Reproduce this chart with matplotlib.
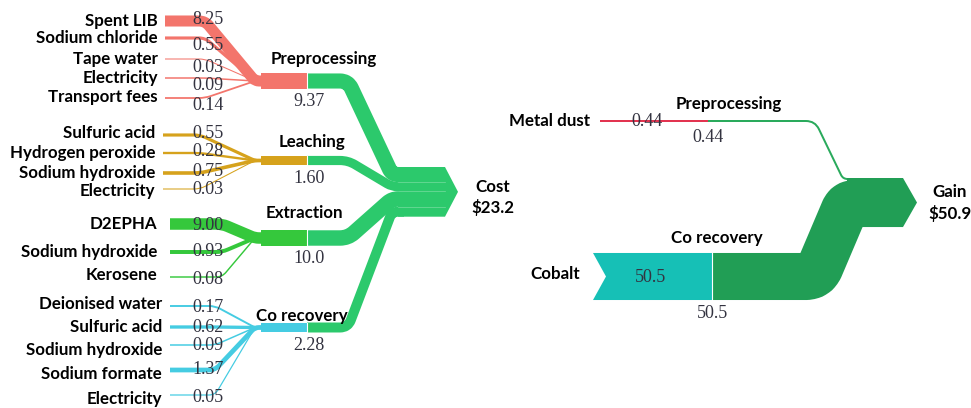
import numpy as np
import matplotlib.pyplot as plt
from matplotlib.path import Path
from matplotlib.patches import PathPatch, Polygon, Rectangle

# ---- data ----
pre_items = ["Spent LIB", "Sodium chloride", "Tape water", "Electricity", "Transport fees"]
pre_values = [8.25, 0.55, 0.03, 0.09, 0.14]
leach_items = ["Sulfuric acid", "Hydrogen peroxide", "Sodium hydroxide", "Electricity"]
leach_values = [0.55, 0.28, 0.75, 0.03]
extr_items = ["D2EPHA", "Sodium hydroxide", "Kerosene"]
extr_values = [9.00, 0.93, 0.08]
co_items = ["Deionised water", "Sulfuric acid", "Sodium hydroxide", "Sodium formate", "Electricity"]
co_values = [0.17, 0.62, 0.09, 1.37, 0.05]

process_names = ["Preprocessing", "Leaching", "Extraction", "Co recovery"]
process_costs = [9.37, 1.60, 10.0, 2.28]
process_labels = ["9.37", "1.60", "10.0", "2.28"]
cost_total = 23.2

gain_sources = ["Metal dust", "Cobalt"]
gain_processes = ["Preprocessing", "Co recovery"]
gain_values = [0.44, 50.5]
gain_total = 50.9

# ---- style ----
PINK = "#F3756C"
GOLD = "#D6A21C"
LGREEN = "#35C83C"
CYAN = "#45CCE2"
OUTGREEN = "#2CC96C"
DKGREEN = "#219E55"
TEAL = "#16C0B6"
RED = "#E23450"
LINEGREEN = "#2AAA5C"
NUMCOL = "#333340"
LABEL_FONT = dict(family="Lato", fontweight="bold", fontsize=12.2, color="black")
NUM_FONT = dict(family="Liberation Serif", fontsize=13, color=NUMCOL)

PX = 0.72  # points per pixel at dpi 100


def in_width(v):
    return 0.4 + 3.7 * np.sqrt(v)


def node_width(v):
    return 5 + 3.3 * np.sqrt(v)


def gain_width(v):
    return 1.6 + 0.9 * v


def rounded(pts, r):
    pts = [np.array(p, float) for p in pts]
    verts = [pts[0]]
    codes = [Path.MOVETO]
    for i in range(1, len(pts) - 1):
        a, p, b = pts[i - 1], pts[i], pts[i + 1]
        da = np.linalg.norm(a - p)
        db = np.linalg.norm(b - p)
        rr = min(r, da / 2, db / 2)
        p1 = p + (a - p) / da * rr
        p2 = p + (b - p) / db * rr
        verts += [p1, p, p2]
        codes += [Path.LINETO, Path.CURVE3, Path.CURVE3]
    verts.append(pts[-1])
    codes.append(Path.LINETO)
    return Path(verts, codes)


def band(ax, pts, w, color, r=6, z=2):
    ax.add_patch(PathPatch(rounded(pts, r), fill=False, edgecolor=color,
                           lw=w * PX, capstyle="butt", joinstyle="round", zorder=z))


fig = plt.figure(figsize=(9.71, 4.08), dpi=100)
ax = fig.add_axes([0, 0, 1, 1])
ax.set_xlim(0, 971)
ax.set_ylim(408, 0)
ax.axis("off")

# ---- left panel layout ----
groups = [
    dict(items=pre_items, values=pre_values, color=PINK, ys=[21, 38, 59, 78, 98],
         label_ys=[21, 38, 59, 78, 97], num_ys=[20, 45, 68, 86, 105],
         x_lab=158, x0=165, bend=205),
    dict(items=leach_items, values=leach_values, color=GOLD, ys=[135, 153, 173, 189],
         label_ys=[133, 153, 173, 191], num_ys=[134, 152, 171, 189],
         x_lab=155, x0=163, bend=200),
    dict(items=extr_items, values=extr_values, color=LGREEN, ys=[224, 252, 277],
         label_ys=[224, 252, 275], num_ys=[226, 252, 279],
         x_lab=157, x0=170, bend=222),
    dict(items=co_items, values=co_values, color=CYAN, ys=[306, 327, 345, 370, 395],
         label_ys=[304, 327, 350, 374, 399], num_ys=[307, 327, 346, 370, 397],
         x_lab=162, x0=170, bend=215),
]
node_centers = [81, 160.5, 238, 327.5]
name_pos = [(324, 59), (312, 142), (304, 213), (302, 316)]
node_x0, node_x1 = 261, 307

# cost arrow stack
widths = [node_width(v) for v in process_costs]
arrow_top = 167
stack_tops = arrow_top + np.concatenate([[0], np.cumsum(widths)[:-1]])
arrow_bot = arrow_top + sum(widths)

for g, yc, w, st, name, (nx, ny), lab in zip(groups, node_centers, widths, stack_tops,
                                             process_names, name_pos, process_labels):
    for item, v, y, ly, ny_ in zip(g["items"], g["values"], g["ys"], g["label_ys"], g["num_ys"]):
        band(ax, [(g["x0"], y), (g["bend"], y), (node_x0 - 6, yc), (node_x0 + 2, yc)],
             in_width(v), g["color"], r=6)
        ax.text(g["x_lab"], ly, item, ha="right", va="center", **LABEL_FONT)
        ax.text(208, ny_, f"{v:.2f}", ha="center", va="center", zorder=6, **NUM_FONT)
    # node
    ax.add_patch(Rectangle((node_x0, yc - w / 2), node_x1 - node_x0, w,
                           facecolor=g["color"], edgecolor="none", zorder=4))
    # output to cost
    ys = st + w / 2
    band(ax, [(node_x1, yc), (348, yc), (392, ys), (404, ys)], w, OUTGREEN, r=8)
    ax.plot([node_x1, node_x1], [yc - w / 2, yc + w / 2], color="white", lw=0.8, zorder=5)
    ax.text(nx, ny, name, ha="center", va="center", zorder=6, **LABEL_FONT)
    ax.text(309, yc + w / 2 + 13, lab, ha="center", va="center", **NUM_FONT)

ax.add_patch(Polygon([(398, arrow_top), (445, arrow_top), (458, (arrow_top + arrow_bot) / 2),
                      (445, arrow_bot), (398, arrow_bot)],
                     closed=True, facecolor=OUTGREEN, edgecolor="none", zorder=3))
for st in stack_tops[1:]:
    ax.plot([398, 445], [st, st], color="white", lw=0.5, alpha=0.35, zorder=3.5)
ax.text(493, 187, "Cost", ha="center", va="center", **LABEL_FONT)
ax.text(493, 208, f"${cost_total}", ha="center", va="center", **LABEL_FONT)

# ---- right panel ----
gw = [gain_width(v) for v in gain_values]
g_top = 178
g_bot = g_top + sum(gw)
g_centers = [g_top + gw[0] / 2, g_top + gw[0] + gw[1] / 2]

# metal dust
md_y = 121
band(ax, [(600, md_y), (708, md_y)], gw[0], RED)
band(ax, [(708, md_y), (815, md_y), (843, g_centers[0]), (852, g_centers[0])],
     gw[0], LINEGREEN, r=9)
ax.text(590, md_y, gain_sources[0], ha="right", va="center", **LABEL_FONT)
ax.text(647, md_y, f"{gain_values[0]:.2f}", ha="center", va="center", zorder=6, **NUM_FONT)
ax.text(708, 137, f"{gain_values[0]:.2f}", ha="center", va="center", **NUM_FONT)
ax.text(729, 104, gain_processes[0], ha="center", va="center", **LABEL_FONT)

# cobalt
cb_y = 276.5
h = gw[1] / 2
ax.add_patch(Polygon([(593, cb_y - h), (712, cb_y - h), (712, cb_y + h), (593, cb_y + h),
                      (606, cb_y)], closed=True, facecolor=TEAL, edgecolor="none", zorder=3))
band(ax, [(712, cb_y), (816, cb_y), (847, g_centers[1]), (862, g_centers[1])],
     gw[1], DKGREEN, r=10)
ax.plot([712, 712], [cb_y - h, cb_y + h], color="white", lw=0.8, zorder=5)
ax.text(580, 274, gain_sources[1], ha="right", va="center", **LABEL_FONT)
ax.text(650, 278, f"{gain_values[1]:.1f}", ha="center", va="center", zorder=6, **NUM_FONT)
ax.text(712, 314, f"{gain_values[1]:.1f}", ha="center", va="center", **NUM_FONT)
ax.text(717, 238, gain_processes[1], ha="center", va="center", **LABEL_FONT)

ax.add_patch(Polygon([(847, g_top), (903, g_top), (917, (g_top + g_bot) / 2),
                      (903, g_bot), (847, g_bot)],
                     closed=True, facecolor=DKGREEN, edgecolor="none", zorder=3))
ax.text(950, 192, "Gain", ha="center", va="center", **LABEL_FONT)
ax.text(950, 213, f"${gain_total}", ha="center", va="center", **LABEL_FONT)

fig.savefig("out.png", dpi=100)
